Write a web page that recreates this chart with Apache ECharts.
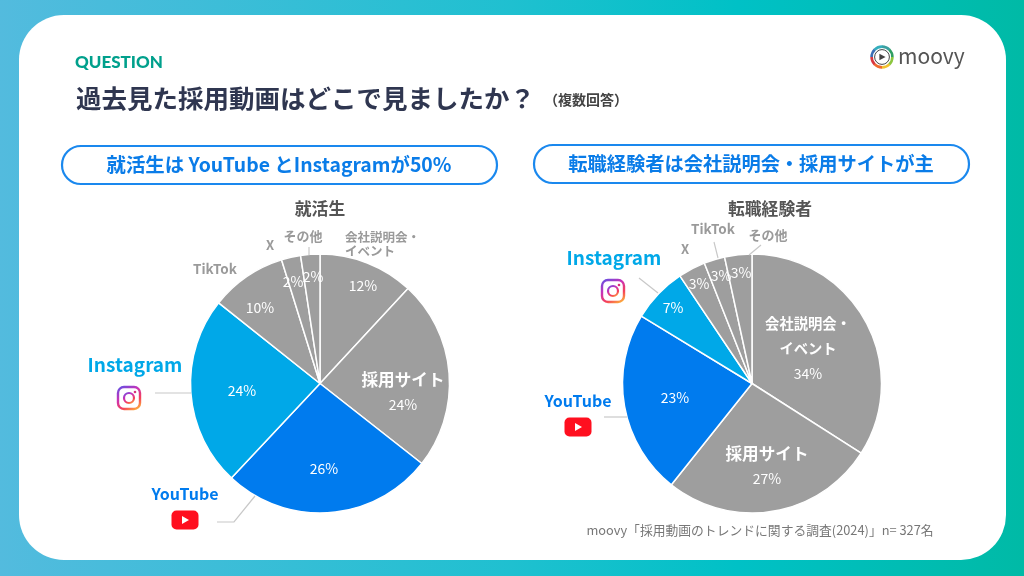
<!DOCTYPE html>
<html>
<head>
<meta charset="utf-8">
<style>
html,body{margin:0;padding:0;background:#fff}
#main{width:1024px;height:576px}
</style>
<script src="https://cdn.jsdelivr.net/npm/echarts@6/dist/echarts.min.js"></script>
</head>
<body>
<div id="main"></div>
<script>
var studentCategories = ['会社説明会・イベント','採用サイト','YouTube','Instagram','TikTok','X','その他'];
var studentValues = [11.9,23.7,26.4,23.7,9.5,2.4,2.4];
var careerCategories = ['会社説明会・イベント','採用サイト','YouTube','Instagram','X','TikTok','その他'];
var careerValues = [34.05,26.65,23,6.9,3.4,2.6,3.4];

var FONT = '"Noto Sans CJK JP","Noto Sans",sans-serif';
var GRAY = '#9e9e9e', YT_BLUE = '#007bee', IG_BLUE = '#00a8e8', LEAD = '#c8c8c8', SOFT = '#9a9a9a';
var sliceColor = {YouTube:YT_BLUE, Instagram:IG_BLUE};
var R = 129.5, CY = 383.5, LEFT_CX = 320, RIGHT_CX = 752;

// where the in-slice labels sit, relative to the pie centre
var studentLabelPos = [[43,-98],[83,8],[4,85],[-78,7],[-60,-76],[-27,-102],[-7,-107]];
var careerLabelPos = [[56,-35],[15,82],[-77,14],[-79,-76],[-53,-100],[-31,-108],[-11,-111]];
var sliceNames = {
  student:{'採用サイト':['name','採用サイト']},
  career:{'会社説明会・イベント':['nameSm','会社説明会・\nイベント'],'採用サイト':['name','採用サイト']}
};

function pieData(cats, vals){
  return cats.map(function(c,i){
    return {name:c, value:vals[i], itemStyle:{color:sliceColor[c]||GRAY}};
  });
}
function labelFormatter(names){
  return function(p){
    var pct = '{pct|'+Math.round(p.value)+'%}';
    var n = names[p.name];
    if(!n) return pct;
    var lines = n[1].split('\n').map(function(l){return '{'+n[0]+'|'+l+'}';});
    return lines.join('\n')+'\n'+pct;
  };
}
function pieSeries(cx, cats, vals, names, pos){
  return {
    type:'pie', silent:true, animation:false,
    center:[cx,CY], radius:[0,R], startAngle:90, clockwise:true,
    itemStyle:{borderColor:'#fff',borderWidth:1.5},
    label:{
      show:true, position:'inside', formatter:labelFormatter(names), color:'#fff',
      rich:{
        name:{fontFamily:FONT,fontSize:16.6,fontWeight:'bold',color:'#fff',lineHeight:26,align:'center'},
        nameSm:{fontFamily:FONT,fontSize:14.3,fontWeight:'bold',color:'#fff',lineHeight:25,align:'center'},
        pct:{fontFamily:FONT,fontSize:14,color:'#fff',lineHeight:24,align:'center'}
      }
    },
    labelLine:{show:false},
    labelLayout:function(p){
      return {x:cx+pos[p.dataIndex][0], y:CY+pos[p.dataIndex][1], align:'center', verticalAlign:'middle', hideOverlap:false};
    },
    data:pieData(cats,vals)
  };
}

function txt(x,y,s,size,color,weight,align){
  return {type:'text',x:x,y:y,silent:true,z:10,style:{
    text:s,fontFamily:FONT,fontSize:size,fontWeight:weight||'normal',fill:color,
    align:align||'center',verticalAlign:'middle'}};
}
function lead(pts){
  return {type:'polyline',silent:true,z:5,shape:{points:pts},style:{stroke:LEAD,lineWidth:1.2,fill:null}};
}
function pill(x,y,w,h){
  return {type:'rect',silent:true,z:3,shape:{x:x,y:y,width:w,height:h,r:h/2},style:{fill:'#fff',stroke:'#1a88ee',lineWidth:2.2}};
}
function igIcon(id,cx,cy){
  var s = 22;
  var grad = new echarts.graphic.LinearGradient(0.2,0,0.8,1,[
    {offset:0,color:'#6a4ee0'},{offset:0.35,color:'#c832b8'},{offset:0.7,color:'#f5405a'},{offset:1,color:'#fdb03a'}]);
  return {type:'group',id:id,x:cx,y:cy,silent:true,z:6,children:[
    {type:'rect',z:6,shape:{x:-s/2,y:-s/2,width:s,height:s,r:6},style:{fill:'#fff',stroke:grad,lineWidth:2.4}},
    {type:'circle',z:7,shape:{cx:0,cy:0,r:5},style:{fill:'#fff',stroke:grad,lineWidth:2.2}},
    {type:'circle',z:7,shape:{cx:6,cy:-6,r:1.3},style:{fill:'#d8327e'}}
  ]};
}
function ytIcon(id,cx,cy){
  return {type:'group',id:id,x:cx,y:cy,silent:true,z:6,children:[
    {type:'rect',z:6,shape:{x:-13.5,y:-9.5,width:27,height:19,r:5},style:{fill:'#ff0f1f'}},
    {type:'polygon',z:7,shape:{points:[[-3,-4],[-3,4],[4,0]]},style:{fill:'#fff'}}
  ]};
}
function logoRing(id,cx,cy){
  var cols = ['#3aa0a0','#2f9e62','#8cc63f','#f2c230','#ef6a2e','#d9363e','#3b6fb5','#34aebd'];
  var kids = cols.map(function(c,i){
    var a = -Math.PI/2+i*Math.PI/4;
    return {type:'arc',z:6,shape:{cx:0,cy:0,r:10.4,startAngle:a,endAngle:a+Math.PI/4+0.03},style:{stroke:c,lineWidth:2.6,fill:null}};
  });
  kids.push({type:'circle',z:7,shape:{cx:0,cy:0,r:7.4},style:{fill:'#fff',stroke:'#444',lineWidth:1}});
  kids.push({type:'polygon',z:8,shape:{points:[[-2.6,-3.2],[-2.6,3.2],[3.6,0]]},style:{fill:'#444'}});
  return {type:'group',id:id,x:cx,y:cy,silent:true,z:6,children:kids};
}

var furniture = [
  {type:'rect',silent:true,z:0,shape:{x:0,y:0,width:1024,height:576},style:{
    fill:new echarts.graphic.LinearGradient(0,0,1,0,[
      {offset:0,color:'#53bbde'},{offset:0.5,color:'#1fc0d0'},{offset:0.72,color:'#00c1c6'},{offset:1,color:'#00baa6'}])}},
  {type:'rect',silent:true,z:1,shape:{x:19,y:15,width:987,height:545,r:45},style:{fill:'#fff'}},
  {type:'text',x:75,y:63,silent:true,z:10,style:{text:'QUESTION',fontFamily:'Lato,"Noto Sans",sans-serif',fontSize:17,fontWeight:900,
    fill:'#00a08c',align:'left',verticalAlign:'middle'}},
  txt(76,98,'過去見た採用動画はどこで見ましたか？',25.5,'#2f3650','bold','left'),
  txt(586,100,'（複数回答）',14,'#444','bold'),
  logoRing('logo',882,57),
  txt(898,56,'moovy',21,'#555','normal','left'),
  pill(62,146,435,38),
  pill(534,145,435,38),
  txt(279,165,'就活生は YouTube とInstagramが50%',19.4,'#0a7ce8','bold'),
  txt(751,164,'転職経験者は会社説明会・採用サイトが主',19.25,'#0a7ce8','bold'),
  txt(320,209,'就活生',16.8,'#555','bold'),
  txt(770,209,'転職経験者',16.8,'#555','bold'),

  // left pie outer labels
  txt(303,236,'その他',13,SOFT,'bold'),
  txt(270,245,'X',13,SOFT,'bold'),
  txt(215,269,'TikTok',13.5,SOFT,'bold'),
  txt(345,237,'会社説明会・',12.5,SOFT,'bold','left'),
  txt(345,251,'イベント',12.5,SOFT,'bold','left'),
  lead([[309,247],[309,255]]),
  txt(135,365,'Instagram',19,IG_BLUE,'bold'),
  igIcon('igLeft',129,398),
  lead([[155,393],[191,393]]),
  txt(185,494,'YouTube',16,YT_BLUE,'bold'),
  ytIcon('ytLeft',185,520),
  lead([[217,522],[234,522],[255,496]]),

  // right pie outer labels
  txt(768,235,'その他',13,SOFT,'bold'),
  txt(713,229,'TikTok',13.5,SOFT,'bold'),
  txt(685,249,'X',13,SOFT,'bold'),
  lead([[714,242],[718,258]]),
  lead([[761,245],[749,255]]),
  txt(614,258,'Instagram',19,IG_BLUE,'bold'),
  igIcon('igRight',613,291),
  lead([[639,278],[658,293]]),
  txt(578,401,'YouTube',16,YT_BLUE,'bold'),
  ytIcon('ytRight',578,427),
  lead([[604,417],[627,417]]),

  txt(760,530,'moovy「採用動画のトレンドに関する調査(2024)」n= 327名',12.8,'#777')
];

var chart = echarts.init(document.getElementById('main'));
chart.setOption({
  animation:false,
  graphic:{elements:furniture},
  series:[
    pieSeries(LEFT_CX,studentCategories,studentValues,sliceNames.student,studentLabelPos),
    pieSeries(RIGHT_CX,careerCategories,careerValues,sliceNames.career,careerLabelPos)
  ]
});
</script>
</body>
</html>
